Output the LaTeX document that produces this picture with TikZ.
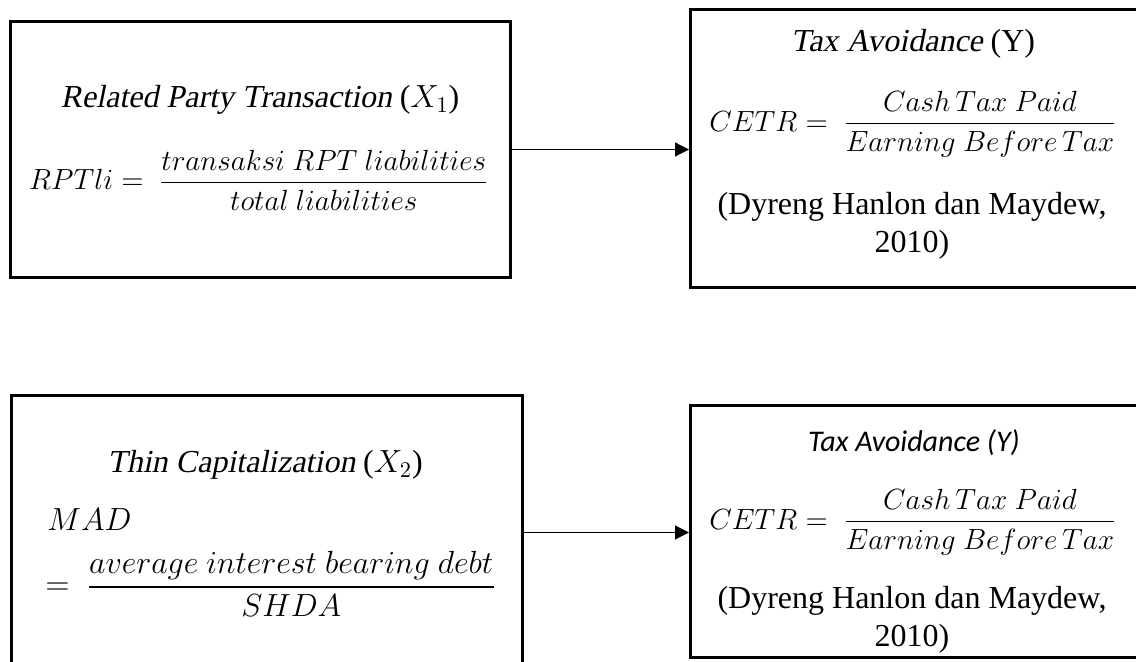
\RequirePackage{fix-cm}
\documentclass[tikz,border=0pt]{standalone}
\usepackage{amsmath}
\usepackage{fontspec}
\setmainfont{Liberation Serif}[ItalicFont={Liberation Serif}, ItalicFeatures={FakeSlant=0.2}]
\newfontfamily\calibrifont{Carlito}
\usetikzlibrary{arrows.meta,positioning}

\tikzset{
  frame/.style={draw, line width=1.5pt, anchor=north west, inner sep=0pt},
  caption/.style={font=\fontsize{16}{19}\selectfont, inner sep=0pt},
  formula/.style={font=\fontsize{14.6}{18}\selectfont, inner sep=0pt},
  link/.style={-{Triangle[length=7pt,width=7pt]}, line width=0.6pt},
}

\begin{document}
\begin{tikzpicture}[x=0.5pt,y=-0.5pt]
  \clip (0,0) rectangle (1136,662);
  % Define boxes
  \node[frame, minimum width=250pt, minimum height=128pt] (rpt) at (9,20) {};
  \node[frame, minimum width=230.5pt, minimum height=139pt] (taxa) at (689,8) {};
  \node[frame, minimum width=255.5pt, minimum height=137pt] (thin) at (10,394) {};
  \node[frame, minimum width=230.5pt, minimum height=126pt] (taxb) at (689,404) {};
  % Box contents
  \node[caption] (rpttitle) at (260,100) {\textit{Related Party Transaction} ($X_1$)};
  \node[formula] (rptfrac) at (259,180) {$RPTli =\ \dfrac{transaksi\ RPT\ liabilities}{total\ liabilities}$};
  \node[caption] (taxatitle) at (913,44) {\textit{Tax Avoidance} (Y)};
  \node[formula] (taxafrac) at (913,124) {$CETR =\ \dfrac{Cash\,Tax\ Paid}{Earning\ Before\,Tax}$};
  \node[caption, align=center] (taxasrc) at (912,226) {(Dyreng Hanlon dan Maydew,\\2010)};
  \node[caption] (thintitle) at (265,465) {\textit{Thin Capitalization} ($X_2$)};
  \node[formula, anchor=west, font=\fontsize{16}{19}\selectfont] (mad) at (47,520) {$MAD$};
  \node[formula, anchor=west, font=\fontsize{16}{19}\selectfont] (madfrac) at (45,584) {$=\ \dfrac{average\ interest\ bearing\ debt}{SHDA}$};
  \node[caption, font=\calibrifont\itshape\fontsize{15}{18}\selectfont] (taxbtitle) at (914,443) {Tax Avoidance (Y)};
  \node[formula] (taxbfrac) at (913,522) {$CETR =\ \dfrac{Cash\,Tax\ Paid}{Earning\ Before\,Tax}$};
  \node[caption, align=center] (taxbsrc) at (912,620) {(Dyreng Hanlon dan Maydew,\\2010)};
  % Connectors
  \draw[link] (rpt.east) -- (rpt.east -| taxa.west);
  \draw[link] (thin.east) -- (thin.east -| taxb.west);
\end{tikzpicture}
\end{document}
